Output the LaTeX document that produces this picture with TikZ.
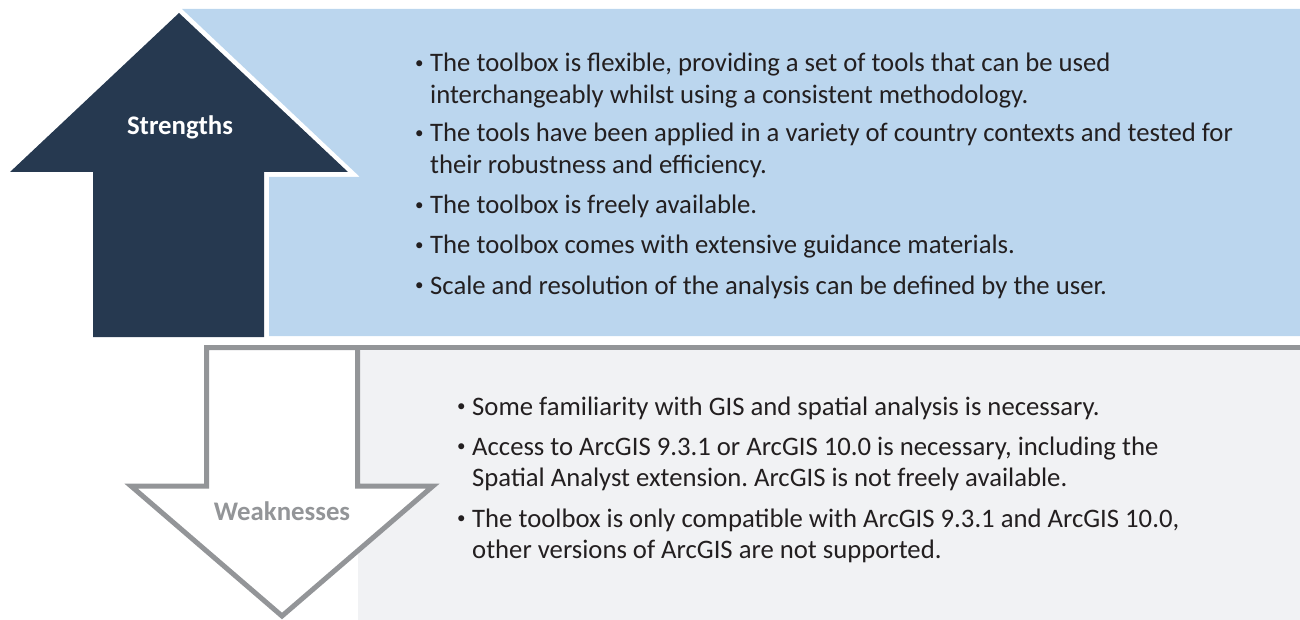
\documentclass[tikz,border=0pt]{standalone}
\usepackage{fontspec}
\setmainfont{Carlito}
\definecolor{navy}{HTML}{263950}
\definecolor{sky}{HTML}{BBD6EE}
\definecolor{mist}{HTML}{F1F2F4}
\definecolor{rim}{HTML}{939598}
\definecolor{ink}{HTML}{231F20}
\frenchspacing
\newcommand{\bul}[1]{\makebox[15pt][l]{\raisebox{3.5pt}{\fontsize{17}{17}\selectfont\textbullet}}%
  \begin{tabular}[t]{@{}l@{}}#1\end{tabular}}

\begin{document}
\begin{tikzpicture}[x=1pt,y=-1pt,up/.style={fill=navy},pane/.style={fill=sky},
  grey/.style={fill=mist},down/.style={draw=rim,line width=5pt,fill=white,line join=miter},
  txt/.style={anchor=base west,inner sep=0pt,text=ink,font=\fontsize{26.7}{31.5}\selectfont},
  lab/.style={anchor=base,inner sep=0pt,font=\bfseries\fontsize{26.8}{30}\selectfont}]
  \useasboundingbox (0,0) rectangle (1300,620);
  \fill[pane] (182,9) -- (1300,9) -- (1300,336) -- (269,336) -- (269,177)
    -- (360,177) -- cycle;
  \fill[up] (179,13) -- (348,172) -- (264,172) -- (264,337) -- (93,337)
    -- (93,172) -- (10,172) -- cycle;
  \fill[grey] (357.5,347.5) rectangle (1300,625);
  \draw[rim,line width=5pt] (206.5,347.5) -- (1300,347.5);
  \draw[down] (206.5,347.5) -- (357.5,347.5) -- (357.5,486) -- (433,486)
    -- (282,616) -- (131,486) -- (206.5,486) -- cycle;

  \node[lab,text=white] (strong) at (180,135) {Strengths};
  \node[lab,text=rim] (weak) at (282,520) {Weaknesses};

  \node[txt] (s1) at (415,72) {\bul{The toolbox is flexible, providing a set of tools that can be used\\
    interchangeably whilst using a consistent methodology.}};
  \node[txt] (s2) at (415,142) {\bul{The tools have been applied in a variety of country contexts and tested for\\
    their robustness and efficiency.}};
  \node[txt] (s3) at (415,214) {\bul{The toolbox is freely available.}};
  \node[txt] (s4) at (415,254) {\bul{The toolbox comes with extensive guidance materials.}};
  \node[txt] (s5) at (415,294) {\bul{Scale and resolution of the analysis can be defined by the user.}};

  \node[txt] (w1) at (457,415) {\bul{Some familiarity with GIS and spatial analysis is necessary.}};
  \node[txt] (w2) at (457,455) {\bul{Access to ArcGIS 9.3.1 or ArcGIS 10.0 is necessary, including the\\
    Spatial Analyst extension. ArcGIS is not freely available.}};
  \node[txt] (w3) at (457,527) {\bul{The toolbox is only compatible with ArcGIS 9.3.1 and ArcGIS 10.0,\\
    other versions of ArcGIS are not supported.}};
\end{tikzpicture}
\end{document}
